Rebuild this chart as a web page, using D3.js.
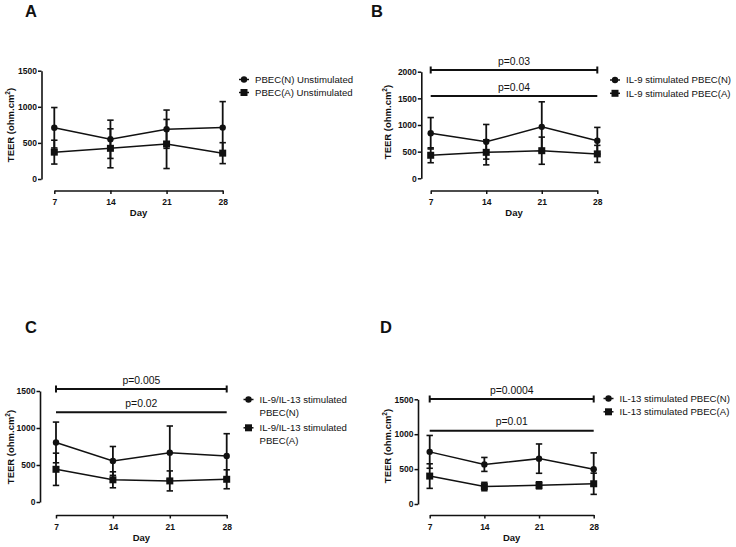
<!DOCTYPE html>
<html>
<head>
<meta charset="utf-8">
<script src="https://cdn.jsdelivr.net/npm/d3@7"></script>
<style>
  html, body { margin: 0; padding: 0; background: #fff; }
  svg { display: block; font-family: "Liberation Sans", Arial, sans-serif; }
</style>
</head>
<body>
<svg id="chart" width="736" height="547"></svg>
<script>
// ---------------- data ----------------
const days = [7, 14, 21, 28];
const dayLabels = ["7", "14", "21", "28"];
const panelLetters = ["A", "B", "C", "D"];

const yTicksA = [0, 500, 1000, 1500];
const yTicksB = [0, 500, 1000, 1500, 2000];
const yTicksC = [0, 500, 1000, 1500];
const yTicksD = [0, 500, 1000, 1500];

// Panel A: unstimulated
const legendA = [["PBEC(N) Unstimulated"], ["PBEC(A) Unstimulated"]];
const aNMean = [710, 550, 690, 712];
const aNSd   = [280, 265, 265, 360];
const aAMean = [372, 425, 485, 358];
const aASd   = [165, 270, 340, 145];
const pA = [];

// Panel B: IL-9
const legendB = [["IL-9 stimulated PBEC(N)"], ["IL-9 stimulated PBEC(A)"]];
const bNMean = [845, 685, 965, 705];
const bNSd   = [295, 325, 470, 250];
const bAMean = [432, 487, 518, 458];
const bASd   = [140, 235, 255, 160];
const pB = ["p=0.03", "p=0.04"];

// Panel C: IL-9/IL-13
const legendC = [["IL-9/IL-13 stimulated", "PBEC(N)"], ["IL-9/IL-13 stimulated", "PBEC(A)"]];
const cNMean = [805, 555, 667, 623];
const cNSd   = [275, 195, 360, 300];
const cAMean = [442, 300, 285, 307];
const cASd   = [218, 108, 135, 128];
const pC = ["p=0.005", "p=0.02"];

// Panel D: IL-13
const legendD = [["IL-13 stimulated PBEC(N)"], ["IL-13 stimulated PBEC(A)"]];
const dNMean = [747, 567, 650, 497];
const dNSd   = [235, 100, 210, 235];
const dAMean = [400, 250, 268, 290];
const dASd   = [176, 60, 50, 152];
const pD = ["p=0.0004", "p=0.01"];

// ---------------- layout (positions only) ----------------
const layouts = [
  { axisX: 41.5, y0: 179, yTop: 70.7, yMax: 1500, xAxisY: 190.5, x0: 54.3, x1: 222.7,
    letterX: 25, letterY: 17, titleX: 10, titleY: 125, dayY: 216,
    legX: 239, legY: 79.5, legGap: 13, lineGap: 13, pY: [] },
  { axisX: 421.3, y0: 178.3, yTop: 71.7, yMax: 2000, xAxisY: 190.5, x0: 430.7, x1: 597.3,
    letterX: 371, letterY: 17, titleX: 387, titleY: 122, dayY: 216,
    legX: 610, legY: 80, legGap: 13.3, lineGap: 13, pY: [70, 96] },
  { axisX: 40, y0: 502, yTop: 391, yMax: 1500, xAxisY: 515, x0: 56, x1: 226.7,
    letterX: 25, letterY: 333, titleX: 10.5, titleY: 447, dayY: 541,
    legX: 243.5, legY: 399.5, legGap: 28.3, lineGap: 13.3, pY: [389, 412.3] },
  { axisX: 418, y0: 504, yTop: 399.3, yMax: 1500, xAxisY: 515, x0: 429.7, x1: 593.7,
    letterX: 380, letterY: 333, titleX: 387, titleY: 446, dayY: 541,
    legX: 603.5, legY: 398.5, legGap: 13.3, lineGap: 13, pY: [399, 430.7] }
];

const panels = [
  { ticks: yTicksA, legend: legendA, n: [aNMean, aNSd], a: [aAMean, aASd], p: pA },
  { ticks: yTicksB, legend: legendB, n: [bNMean, bNSd], a: [bAMean, bASd], p: pB },
  { ticks: yTicksC, legend: legendC, n: [cNMean, cNSd], a: [cAMean, cASd], p: pC },
  { ticks: yTicksD, legend: legendD, n: [dNMean, dNSd], a: [dAMean, dASd], p: pD }
];

const svg = d3.select("#chart");
const ink = "#111";

function marker(g, shape, x, y) {
  if (shape === "circle") {
    g.append("circle").attr("cx", x).attr("cy", y).attr("r", 3.2).attr("fill", ink);
  } else {
    g.append("rect").attr("x", x - 3.5).attr("y", y - 3.5).attr("width", 7).attr("height", 7).attr("fill", ink);
  }
}

panels.forEach((p, i) => {
  const L = layouts[i];
  const g = svg.append("g");
  const x = d3.scaleLinear().domain([7, 28]).range([L.x0, L.x1]);
  const y = d3.scaleLinear().domain([0, L.yMax]).range([L.y0, L.yTop]);

  // panel letter
  g.append("text").attr("x", L.letterX).attr("y", L.letterY)
    .attr("font-size", 16.5).attr("font-weight", "bold").attr("fill", ink)
    .text(panelLetters[i]);

  // y axis
  const ya = g.append("g").attr("transform", `translate(${L.axisX},0)`)
    .call(d3.axisLeft(y).tickValues(p.ticks).tickFormat(d3.format("d")).tickSize(3.5).tickSizeOuter(0).tickPadding(1));
  ya.select(".domain").attr("stroke", ink).attr("stroke-width", 1.6);
  ya.selectAll(".tick line").attr("stroke", ink).attr("stroke-width", 1.5);
  ya.selectAll(".tick text").attr("font-size", 8.5).attr("font-weight", "bold").attr("fill", ink)
    .attr("font-family", "Liberation Sans, Arial, sans-serif");

  // x axis
  const xa = g.append("g").attr("transform", `translate(0,${L.xAxisY})`)
    .call(d3.axisBottom(x).tickValues(days).tickFormat((d, k) => dayLabels[k]).tickSize(3.5).tickSizeOuter(0).tickPadding(5));
  xa.select(".domain").attr("stroke", ink).attr("stroke-width", 1.6);
  xa.selectAll(".tick line").attr("stroke", ink).attr("stroke-width", 1.5);
  xa.selectAll(".tick text").attr("font-size", 8.5).attr("font-weight", "bold").attr("fill", ink)
    .attr("font-family", "Liberation Sans, Arial, sans-serif");

  // axis titles
  g.append("text").attr("x", (L.x0 + L.x1) / 2).attr("y", L.dayY)
    .attr("text-anchor", "middle").attr("font-size", 9.5).attr("font-weight", "bold").attr("fill", ink)
    .text("Day");
  const yt = g.append("text")
    .attr("transform", `translate(${L.titleX + 3.5},${L.titleY}) rotate(-90)`)
    .attr("text-anchor", "middle").attr("font-size", 9.5).attr("font-weight", "bold").attr("fill", ink);
  yt.append("tspan").text("TEER (ohm.cm");
  yt.append("tspan").attr("font-size", 6.5).attr("dy", -4).text("2");
  yt.append("tspan").attr("dy", 4).text(")");

  // series
  const series = [
    { mean: p.n[0], sd: p.n[1], shape: "circle" },
    { mean: p.a[0], sd: p.a[1], shape: "square" }
  ];
  const line = d3.line().x((d, k) => x(days[k])).y(d => y(d));
  series.forEach(s => {
    const sg = g.append("g");
    // error bars
    s.mean.forEach((m, k) => {
      const cx = x(days[k]);
      const hi = y(m + s.sd[k]), lo = y(Math.max(0, m - s.sd[k]));
      sg.append("line").attr("x1", cx).attr("x2", cx).attr("y1", hi).attr("y2", lo)
        .attr("stroke", ink).attr("stroke-width", 1.8);
      [hi, lo].forEach(yy => sg.append("line").attr("x1", cx - 3.2).attr("x2", cx + 3.2)
        .attr("y1", yy).attr("y2", yy).attr("stroke", ink).attr("stroke-width", 1.6));
    });
    sg.append("path").attr("d", line(s.mean)).attr("fill", "none")
      .attr("stroke", ink).attr("stroke-width", 1.5);
    s.mean.forEach((m, k) => marker(sg, s.shape, x(days[k]), y(m)));
  });

  // p-value annotations
  p.p.forEach((label, k) => {
    const ly = L.pY[k];
    g.append("line").attr("x1", L.x0).attr("x2", L.x1).attr("y1", ly).attr("y2", ly)
      .attr("stroke", ink).attr("stroke-width", 2);
    if (k === 0) {
      [L.x0, L.x1].forEach(xx => g.append("line").attr("x1", xx).attr("x2", xx)
        .attr("y1", ly - 3.5).attr("y2", ly + 3.5).attr("stroke", ink).attr("stroke-width", 2));
    }
    g.append("text").attr("x", (L.x0 + L.x1) / 2).attr("y", ly - 5.5)
      .attr("text-anchor", "middle").attr("font-size", 10.4).attr("fill", ink)
      .text(label);
  });

  // legend
  let ly = L.legY;
  p.legend.forEach((lines, k) => {
    const lg = g.append("g");
    lg.append("line").attr("x1", L.legX).attr("x2", L.legX + 10).attr("y1", ly).attr("y2", ly)
      .attr("stroke", ink).attr("stroke-width", 1.5);
    marker(lg, k === 0 ? "circle" : "square", L.legX + 5, ly);
    lines.forEach((t, j) => {
      lg.append("text").attr("x", L.legX + 16).attr("y", ly + j * L.lineGap)
        .attr("dy", "0.35em").attr("font-size", 9.6).attr("fill", ink).text(t);
    });
    ly += L.legGap;
  });
});
</script>
</body>
</html>
